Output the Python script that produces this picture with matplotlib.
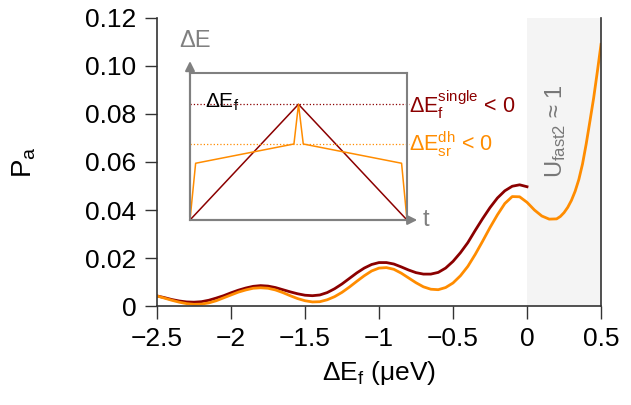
import numpy as np
import matplotlib
matplotlib.use("Agg")
import matplotlib.pyplot as plt

plt.rcParams['font.family'] = ['Liberation Sans', 'DejaVu Sans']
plt.rcParams['mathtext.fontset'] = 'custom'
plt.rcParams['mathtext.rm'] = 'Liberation Sans'
plt.rcParams['mathtext.it'] = 'Liberation Sans'
plt.rcParams['mathtext.sf'] = 'Liberation Sans'

# main curves (x step 0.05, finer on the steep tail)
x_red = np.round(np.arange(-2.5, 0.001, 0.05), 3)
p_single = [0.0042, 0.0035, 0.0027, 0.0021, 0.0017, 0.0016, 0.0018, 0.0024, 0.0033, 0.0043,
            0.0055, 0.0066, 0.0075, 0.0082, 0.0085, 0.0083, 0.0077, 0.0068, 0.0059, 0.0051,
            0.0045, 0.0043, 0.0046, 0.0056, 0.0072, 0.0092, 0.0115, 0.0138, 0.0158, 0.0173,
            0.0181, 0.0181, 0.0175, 0.0163, 0.0150, 0.0139, 0.0133, 0.0133, 0.0140, 0.0158,
            0.0186, 0.0222, 0.0264, 0.0315, 0.0364, 0.0410, 0.0450, 0.0480, 0.0499, 0.0505,
            0.0497]

x_orange = list(np.round(np.arange(-2.5, 0.176, 0.05), 3)) + \
    [0.2, 0.225, 0.25, 0.275, 0.3, 0.325, 0.35, 0.375, 0.4, 0.425, 0.45, 0.475, 0.5]
p_dh = [0.0042, 0.0033, 0.0024, 0.0016, 0.0010, 0.0007, 0.0008, 0.0013, 0.0022, 0.0034,
        0.0046, 0.0058, 0.0067, 0.0074, 0.0076, 0.0074, 0.0067, 0.0056, 0.0043, 0.0031,
        0.0022, 0.0017, 0.0018, 0.0026, 0.0039, 0.0057, 0.0079, 0.0103, 0.0126, 0.0146,
        0.0158, 0.0160, 0.0153, 0.0137, 0.0117, 0.0097, 0.0080, 0.0070, 0.0068, 0.0077,
        0.0096, 0.0126, 0.0165, 0.0215, 0.0270, 0.0327, 0.0380, 0.0427, 0.0456, 0.0455,
        0.0432, 0.0400, 0.0375, 0.0362,
        0.0363, 0.0373, 0.0389, 0.0411, 0.0440, 0.0478, 0.0527, 0.0592, 0.0676, 0.0770,
        0.0866, 0.0976, 0.1090]

xticks = [-2.5, -2, -1.5, -1, -0.5, 0, 0.5]
xticklabels = ['\u22122.5', '\u22122', '\u22121.5', '\u22121', '\u22120.5', '0', '0.5']
yticks = [0, 0.02, 0.04, 0.06, 0.08, 0.10, 0.12]
yticklabels = ['0', '0.02', '0.04', '0.06', '0.08', '0.10', '0.12']

# inset schematic
t_single = [0, 0.5, 1]
e_single = [0, 0.787, 0]
t_dh = [0, 0.026, 0.479, 0.5, 0.522, 0.975, 1]
e_dh = [0, 0.386, 0.517, 0.787, 0.517, 0.386, 0]

red = '#8b0000'
orange = '#ff8c00'
gray = '#808080'

fig = plt.figure(figsize=(6.31, 4.05), dpi=100)
ax = fig.add_axes([0.2488, 0.2444, 0.7037, 0.7112])

ax.axvspan(0, 0.5, color='#f4f4f4', zorder=0, lw=0)
ax.plot(x_red, p_single, color=red, lw=2)
ax.plot(x_orange, p_dh, color=orange, lw=2)

ax.set_xlim(-2.5, 0.5)
ax.set_ylim(0, 0.12)
ax.set_xticks(xticks)
ax.set_xticklabels(xticklabels)
ax.set_yticks(yticks)
ax.set_yticklabels(yticklabels)
ax.tick_params(labelsize=19, length=9, width=1, direction='out', color='#333333', pad=6)
ax.spines['top'].set_visible(False)
for s in ['left', 'bottom', 'right']:
    ax.spines[s].set_color('#333333')
    ax.spines[s].set_linewidth(1.2)
ax.set_xlabel(r'$\mathregular{\Delta E_f}$ (μeV)', fontsize=19, labelpad=6)
ax.set_ylabel(r'$\mathregular{P_a}$', fontsize=20, labelpad=34)

ax.text(0.19, 0.0729, r'$\mathregular{U_{fast2}}$ ≈ 1', rotation=90, color='#777777',
        fontsize=17, ha='center', va='center')

# inset
ins = fig.add_axes([0.3011, 0.4568, 0.3439, 0.3630])
ins.set_xlim(0, 1)
ins.set_ylim(0, 1)
ins.set_xticks([])
ins.set_yticks([])
ins.patch.set_alpha(0)
for s in ins.spines.values():
    s.set_color(gray)
    s.set_linewidth(1.5)
ins.plot(t_single, e_single, color=red, lw=1.1, clip_on=False)
ins.plot(t_dh, e_dh, color=orange, lw=1.1, clip_on=False)
ins.plot([0, 1.01], [0.787, 0.787], color=red, lw=0.9, ls=':', clip_on=False)
ins.plot([0, 1.01], [0.517, 0.517], color=orange, lw=0.9, ls=':', clip_on=False)
ins.annotate('', xy=(0, 1.1), xytext=(0, 0), xycoords='axes fraction',
             arrowprops=dict(arrowstyle='-|>', color=gray, lw=1.5, mutation_scale=14))
ins.annotate('', xy=(1.06, 0), xytext=(0, 0), xycoords='axes fraction',
             arrowprops=dict(arrowstyle='-|>', color=gray, lw=1.5, mutation_scale=14))
ins.text(-0.05, 1.14, 'ΔE', color=gray, fontsize=17, transform=ins.transAxes,
         ha='left', va='bottom')
ins.text(1.07, 0.0, 't', color=gray, fontsize=17, transform=ins.transAxes,
         ha='left', va='center')
ins.text(0.07, 0.8, r'$\mathregular{\Delta E_f}$', color='black', fontsize=15,
         transform=ins.transAxes, ha='left', va='center')
ins.text(1.01, 0.787, r'$\mathregular{\Delta E_f^{single}}$ < 0', color=red, fontsize=15.5,
         transform=ins.transAxes, ha='left', va='center')
ins.text(1.01, 0.517, r'$\mathregular{\Delta E_{sr}^{dh}}$ < 0', color=orange, fontsize=15.5,
         transform=ins.transAxes, ha='left', va='center')

fig.savefig('out.png', dpi=100)
